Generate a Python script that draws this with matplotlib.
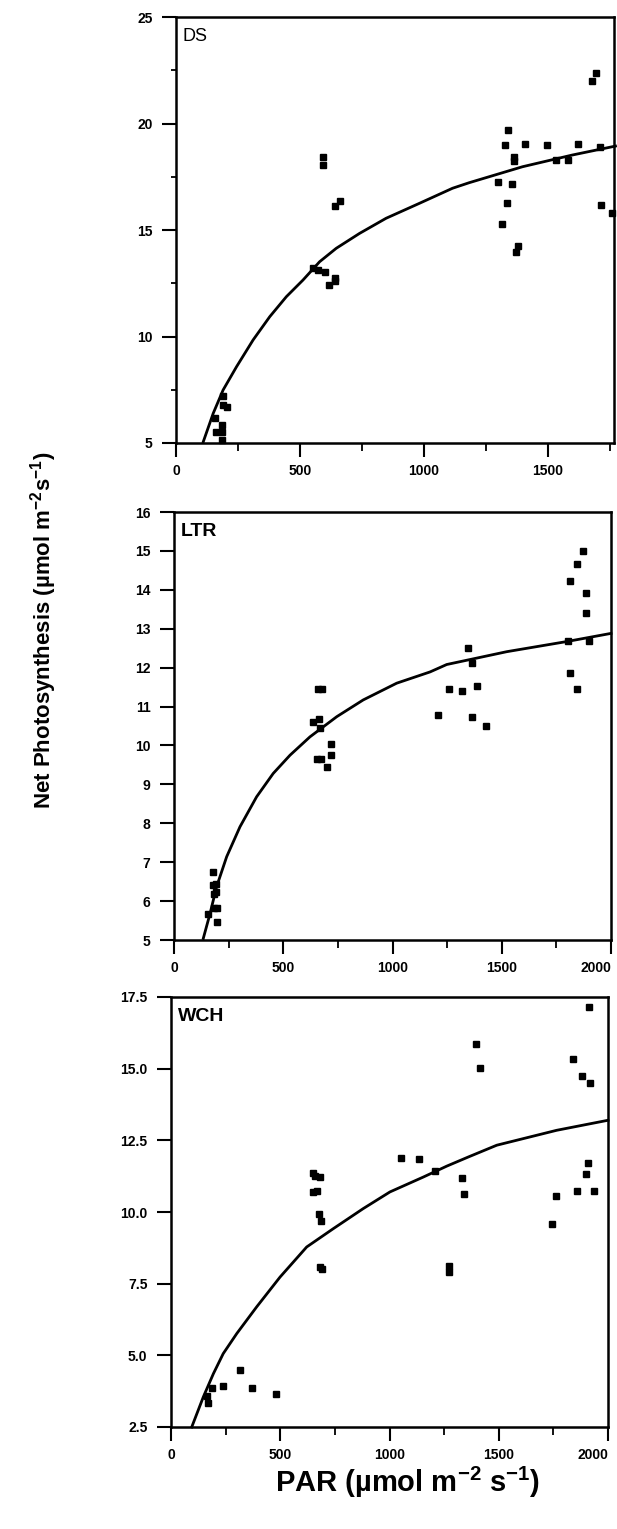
import matplotlib
matplotlib.use("Agg")
import matplotlib.pyplot as plt
from matplotlib.ticker import MultipleLocator

plt.rcParams['font.family'] = ['Liberation Sans', 'DejaVu Sans']
plt.rcParams['font.weight'] = 'bold'
plt.rcParams['xtick.labelsize'] = 10
plt.rcParams['ytick.labelsize'] = 10
plt.rcParams['mathtext.fontset'] = 'custom'
plt.rcParams['mathtext.rm'] = 'Liberation Sans:bold'
plt.rcParams['mathtext.it'] = 'Liberation Sans:bold'
plt.rcParams['mathtext.bf'] = 'Liberation Sans:bold'

# ---------------- DS ----------------
ds_par = [1676, 1692, 1337, 1326, 1406, 1494, 1620, 1709, 1362, 1362, 1531, 1582,
          1300, 1354, 1333, 1314, 1377, 1370, 1713, 1756,
          592, 592, 643, 662, 552, 572, 602, 617, 643, 643,
          190, 206, 190, 157, 161, 184, 184, 184]
ds_pn = [22.0, 22.36, 19.68, 18.98, 19.05, 18.97, 19.05, 18.9, 18.41, 18.25, 18.27, 18.27,
         17.27, 17.16, 16.28, 15.28, 14.26, 13.97, 16.17, 15.78,
         18.44, 18.05, 16.14, 16.35, 13.23, 13.12, 13.03, 12.40, 12.6, 12.73,
         7.21, 6.68, 6.78, 6.16, 5.53, 5.85, 5.53, 5.14]
ds_curve_par = [110, 150, 190, 244, 311, 378, 445, 512, 579, 646, 740, 847, 981,
                1115, 1182, 1397, 1598, 1772]
ds_curve_pn = [5.06, 6.39, 7.49, 8.58, 9.84, 10.93, 11.87, 12.65, 13.51, 14.14, 14.84,
               15.55, 16.25, 16.96, 17.22, 17.97, 18.52, 18.94]

# ---------------- LTR ----------------
ltr_par = [1873, 1843, 1812, 1884, 1884, 1802, 1901, 1812, 1843,
           1347, 1365, 1257, 1317, 1387, 1207, 1365, 1427,
           658, 676, 638, 662, 670, 653, 671, 720, 720, 702,
           180, 180, 192, 183, 192, 157, 183, 195, 198]
ltr_pn = [15.01, 14.67, 14.23, 13.91, 13.40, 12.68, 12.69, 11.85, 11.46,
          12.51, 12.11, 11.46, 11.40, 11.52, 10.77, 10.73, 10.51,
          11.45, 11.45, 10.60, 10.67, 10.44, 9.65, 9.65, 10.04, 9.76, 9.44,
          6.75, 6.41, 6.45, 6.18, 6.24, 5.67, 5.81, 5.81, 5.45]
ltr_curve_par = [134, 165, 195, 241, 302, 378, 454, 531, 622, 745, 866, 1019, 1172,
                 1248, 1523, 1797, 2000]
ltr_curve_pn = [5.04, 5.68, 6.37, 7.14, 7.91, 8.68, 9.28, 9.75, 10.22, 10.74, 11.17,
                11.60, 11.89, 12.08, 12.41, 12.67, 12.88]

# ---------------- WCH ----------------
wch_par = [1915, 1396, 1414, 1841, 1880, 1918,
           1053, 1134, 1210, 1332, 1340, 1910, 1899, 1857, 1936, 1764, 1744,
           1271, 1271, 682, 690, 648, 682, 659, 667, 648, 677, 688,
           316, 371, 237, 479, 186, 163, 171]
wch_pn = [17.15, 15.87, 15.02, 15.34, 14.73, 14.50,
          11.87, 11.85, 11.43, 11.19, 10.64, 11.72, 11.34, 10.73, 10.73, 10.57, 9.57,
          8.12, 7.91, 8.08, 8.02, 11.37, 11.22, 11.24, 10.73, 10.70, 9.94, 9.70,
          4.48, 3.86, 3.93, 3.64, 3.86, 3.57, 3.32]
wch_curve_par = [95, 148, 194, 239, 301, 392, 499, 621, 743, 880, 1002, 1155, 1262,
                 1361, 1491, 1765, 2000]
wch_curve_pn = [2.50, 3.55, 4.36, 5.06, 5.76, 6.69, 7.73, 8.78, 9.42, 10.12, 10.70,
                11.22, 11.60, 11.92, 12.33, 12.85, 13.2]

panel_names = ['DS', 'LTR', 'WCH']

W, H = 617, 1529
fig = plt.figure(figsize=(W / 100, H / 100), dpi=100)


def add_ax(l, r, t, b):
    return fig.add_axes([l / W, 1 - b / H, (r - l) / W, (b - t) / H])


def style(ax, xlim, ylim, xmaj, xmin, ymaj, ymin, yfmt):
    ax.set_xlim(*xlim)
    ax.set_ylim(*ylim)
    for s in ax.spines.values():
        s.set_linewidth(1.8)
    ax.xaxis.set_major_locator(MultipleLocator(xmaj))
    ax.xaxis.set_minor_locator(MultipleLocator(xmin))
    ax.yaxis.set_major_locator(MultipleLocator(ymaj))
    if ymin:
        ax.yaxis.set_minor_locator(MultipleLocator(ymin))
    ax.tick_params(which='major', direction='out', length=10, width=1.5)
    ax.tick_params(axis='x', which='major', pad=5)
    ax.tick_params(axis='y', which='major', pad=7)
    ax.tick_params(axis='x', which='minor', direction='out', length=5.5, width=1.3)
    ax.tick_params(axis='y', which='minor', direction='out', length=3.5, width=1.3)
    ax.yaxis.set_major_formatter(plt.FuncFormatter(lambda v, p: yfmt.format(v)))
    ax.xaxis.set_major_formatter(plt.FuncFormatter(lambda v, p: '{:.0f}'.format(v)))


mk = dict(marker='s', markersize=3.8, color='black', linestyle='none')
lw = 2.0
name_family = ['Liberation Sans', 'DejaVu Sans']

ax1 = add_ax(176, 614, 17, 443)
ax1.plot(ds_par, ds_pn, **mk, clip_on=False)
ax1.plot(ds_curve_par, ds_curve_pn, color='black', lw=lw, clip_on=False)
style(ax1, (0, 1766), (5, 25), 500, 250, 5, 2.5, '{:.0f}')
ax1.text(0.015, 0.975, panel_names[0], transform=ax1.transAxes, ha='left', va='top',
         fontsize=13, weight='normal', family=name_family)

ax2 = add_ax(174, 611, 512, 940)
ax2.plot(ltr_par, ltr_pn, **mk, clip_on=False)
ax2.plot(ltr_curve_par, ltr_curve_pn, color='black', lw=lw, clip_on=False)
style(ax2, (0, 2000), (5, 16), 500, 250, 1, None, '{:.0f}')
ax2.text(0.015, 0.975, panel_names[1], transform=ax2.transAxes, ha='left', va='top',
         fontsize=14, weight='bold', family=name_family)

ax3 = add_ax(171, 608, 997, 1427)
ax3.plot(wch_par, wch_pn, **mk, clip_on=False)
ax3.plot(wch_curve_par, wch_curve_pn, color='black', lw=lw, clip_on=False)
style(ax3, (0, 2000), (2.5, 17.5), 500, 250, 2.5, None, '{:.1f}')
ax3.text(0.015, 0.975, panel_names[2], transform=ax3.transAxes, ha='left', va='top',
         fontsize=14, weight='bold', family=name_family)

fig.text(44 / W, 1 - 630 / H, 'Net Photosynthesis (µmol m$^{-2}$s$^{-1}$)',
         rotation=90, ha='center', va='center', fontsize=16, weight='bold',
         family=name_family)
fig.text(408 / W, 1 - 1482 / H, 'PAR (µmol m$^{-2}$ s$^{-1}$)',
         ha='center', va='center', fontsize=21, weight='bold',
         family=name_family)

# keep the right-most "2000" labels inside the figure
fig.canvas.draw()
for ax in (ax2, ax3):
    for tick in ax.xaxis.get_major_ticks():
        if tick.label1.get_text() == '2000':
            tick.label1.set_horizontalalignment('right')
            tick.label1.set_x(tick.label1.get_position()[0])

fig.savefig('out.png', dpi=100)
